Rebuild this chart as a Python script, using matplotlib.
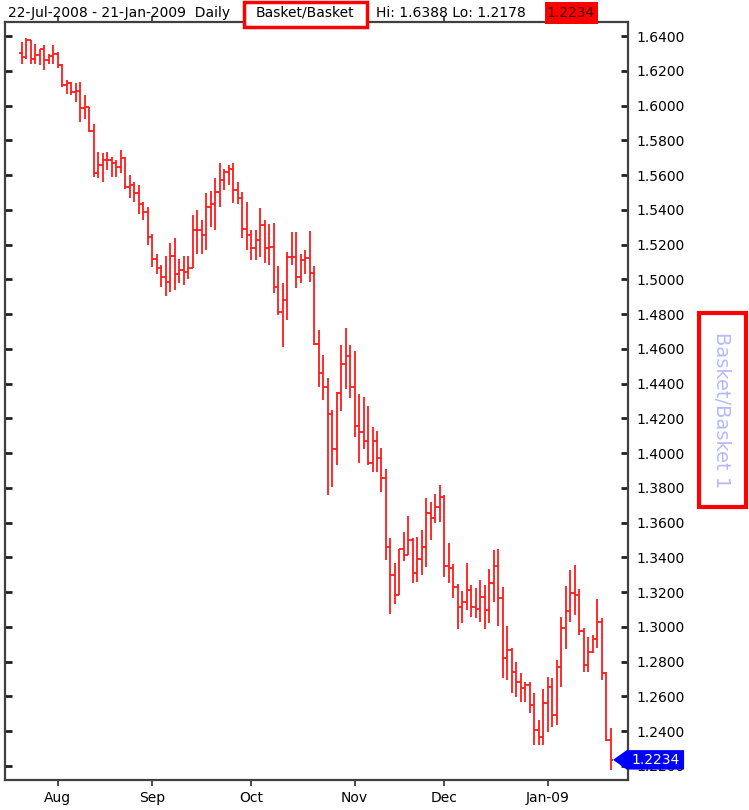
import numpy as np
import pandas as pd
from matplotlib import pyplot as plt
from matplotlib.patches import Rectangle, Polygon
from matplotlib import transforms

dates = pd.bdate_range('2008-07-22', '2009-01-21')

opens = [1.6304, 1.6281, 1.6377, 1.6271, 1.6291, 1.6329, 1.6266, 1.6285, 1.6300, 1.6233,
         1.6118, 1.6128, 1.6080, 1.6083, 1.5989, 1.5993, 1.5855, 1.5613, 1.5661, 1.5690,
         1.5686, 1.5671, 1.5648, 1.5700, 1.5533, 1.5542, 1.5495, 1.5437, 1.5389, 1.5245,
         1.5120, 1.5063, 1.5015, 1.4986, 1.5134, 1.5034, 1.5053, 1.5044, 1.5063, 1.5283,
         1.5283, 1.5255, 1.5418, 1.5437, 1.5504, 1.5571, 1.5619, 1.5638, 1.5514, 1.5466,
         1.5293, 1.5255, 1.5178, 1.5226, 1.5312, 1.5178, 1.5184, 1.4957, 1.4814, 1.4881,
         1.5130, 1.5130, 1.5015, 1.5111, 1.5126, 1.5038, 1.4631, 1.4463, 1.4382, 1.4225,
         1.4021, 1.4344, 1.4512, 1.4558, 1.4382, 1.4156, 1.4123, 1.4071, 1.3945, 1.4071,
         1.3970, 1.3854, 1.3457, 1.3298, 1.3183, 1.3446, 1.3413, 1.3500, 1.3311, 1.3388,
         1.3457, 1.3653, 1.3624, 1.3691, 1.3749, 1.3350, 1.3336, 1.3227, 1.3112, 1.3145,
         1.3212, 1.3112, 1.3100, 1.3170, 1.3097, 1.3254, 1.3350, 1.3164, 1.2818, 1.2866,
         1.2742, 1.2684, 1.2646, 1.2665, 1.2550, 1.2406, 1.2364, 1.2563, 1.2652, 1.2492,
         1.2770, 1.2991, 1.3093, 1.3193, 1.3183, 1.2978, 1.2780, 1.2857, 1.2928, 1.3029,
         1.2736, 1.2348]
highs = [1.6367, 1.6388, 1.6381, 1.6358, 1.6329, 1.6348, 1.6300, 1.6348, 1.6310, 1.6243,
         1.6147, 1.6137, 1.6128, 1.6137, 1.6060, 1.5995, 1.5897, 1.5734, 1.5725, 1.5734,
         1.5705, 1.5686, 1.5744, 1.5705, 1.5600, 1.5562, 1.5542, 1.5447, 1.5418, 1.5264,
         1.5149, 1.5082, 1.5134, 1.5211, 1.5236, 1.5120, 1.5134, 1.5134, 1.5370, 1.5402,
         1.5341, 1.5495, 1.5510, 1.5581, 1.5671, 1.5638, 1.5658, 1.5671, 1.5562, 1.5504,
         1.5447, 1.5283, 1.5283, 1.5414, 1.5341, 1.5318, 1.5322, 1.5076, 1.4977, 1.5159,
         1.5274, 1.5274, 1.5149, 1.5168, 1.5280, 1.5076, 1.4708, 1.4564, 1.4430, 1.4248,
         1.4353, 1.4622, 1.4723, 1.4622, 1.4589, 1.4340, 1.4324, 1.4271, 1.4148, 1.4129,
         1.4031, 1.3906, 1.3509, 1.3369, 1.3446, 1.3547, 1.3638, 1.3509, 1.3519, 1.3557,
         1.3739, 1.3720, 1.3764, 1.3816, 1.3758, 1.3480, 1.3359, 1.3246, 1.3208, 1.3369,
         1.3240, 1.3221, 1.3269, 1.3240, 1.3331, 1.3442, 1.3446, 1.3231, 1.3004, 1.2876,
         1.2799, 1.2732, 1.2684, 1.2684, 1.2617, 1.2464, 1.2640, 1.2713, 1.2703, 1.2809,
         1.3058, 1.3235, 1.3327, 1.3356, 1.3216, 1.2991, 1.2943, 1.2953, 1.3158, 1.3048,
         1.2742, 1.2416]
lows = [1.6243, 1.6271, 1.6243, 1.6243, 1.6233, 1.6208, 1.6243, 1.6243, 1.6220, 1.6105,
        1.6070, 1.6060, 1.6022, 1.5907, 1.5926, 1.5849, 1.5590, 1.5581, 1.5562, 1.5629,
        1.5590, 1.5590, 1.5610, 1.5523, 1.5466, 1.5447, 1.5379, 1.5341, 1.5197, 1.5073,
        1.5034, 1.4957, 1.4904, 1.4929, 1.4938, 1.4977, 1.4967, 1.5005, 1.5063, 1.5149,
        1.5149, 1.5172, 1.5303, 1.5283, 1.5418, 1.5514, 1.5543, 1.5441, 1.5437, 1.5236,
        1.5168, 1.5111, 1.5111, 1.5130, 1.5092, 1.5082, 1.4919, 1.4794, 1.4612, 1.4766,
        1.5082, 1.4948, 1.4977, 1.5034, 1.4986, 1.4620, 1.4382, 1.4305, 1.3758, 1.3806,
        1.3931, 1.4244, 1.4367, 1.4315, 1.4094, 1.3941, 1.4021, 1.3931, 1.3893, 1.3893,
        1.3778, 1.3384, 1.3074, 1.3131, 1.3183, 1.3381, 1.3413, 1.3254, 1.3260, 1.3298,
        1.3346, 1.3500, 1.3599, 1.3605, 1.3288, 1.3254, 1.3164, 1.2985, 1.3020, 1.3097,
        1.3058, 1.3049, 1.3030, 1.2985, 1.3020, 1.3145, 1.3004, 1.2703, 1.2694, 1.2621,
        1.2594, 1.2569, 1.2569, 1.2502, 1.2320, 1.2320, 1.2320, 1.2396, 1.2425, 1.2435,
        1.2655, 1.2870, 1.3029, 1.3068, 1.2953, 1.2742, 1.2742, 1.2850, 1.2876, 1.2694,
        1.2340, 1.2178]
closes = [1.6281, 1.6377, 1.6271, 1.6291, 1.6329, 1.6266, 1.6285, 1.6300, 1.6233, 1.6118,
          1.6128, 1.6080, 1.6083, 1.5989, 1.5993, 1.5855, 1.5613, 1.5661, 1.5690, 1.5686,
          1.5671, 1.5648, 1.5700, 1.5533, 1.5542, 1.5495, 1.5437, 1.5389, 1.5245, 1.5120,
          1.5063, 1.5015, 1.4986, 1.5134, 1.5034, 1.5053, 1.5044, 1.5063, 1.5283, 1.5283,
          1.5255, 1.5418, 1.5437, 1.5504, 1.5571, 1.5619, 1.5638, 1.5514, 1.5466, 1.5293,
          1.5255, 1.5178, 1.5226, 1.5312, 1.5178, 1.5184, 1.4957, 1.4814, 1.4881, 1.5130,
          1.5130, 1.5015, 1.5111, 1.5126, 1.5038, 1.4631, 1.4463, 1.4382, 1.4225, 1.4021,
          1.4344, 1.4512, 1.4558, 1.4382, 1.4156, 1.4123, 1.4071, 1.3945, 1.4071, 1.3970,
          1.3854, 1.3457, 1.3298, 1.3183, 1.3446, 1.3413, 1.3500, 1.3311, 1.3388, 1.3457,
          1.3653, 1.3624, 1.3691, 1.3749, 1.3350, 1.3336, 1.3227, 1.3112, 1.3145, 1.3212,
          1.3112, 1.3100, 1.3170, 1.3097, 1.3254, 1.3350, 1.3164, 1.2818, 1.2866, 1.2742,
          1.2684, 1.2646, 1.2665, 1.2550, 1.2406, 1.2364, 1.2563, 1.2652, 1.2492, 1.2770,
          1.2991, 1.3093, 1.3193, 1.3183, 1.2978, 1.2780, 1.2857, 1.2928, 1.3029, 1.2736,
          1.2348, 1.2234]

month_labels = ['Aug', 'Sep', 'Oct', 'Nov', 'Dec', 'Jan-09']
y_ticks = np.arange(1.22, 1.6401, 0.02)

W, H = 749, 810
fig = plt.figure(figsize=(W / 100, H / 100), dpi=100)
fig.patch.set_facecolor('white')
ax = fig.add_axes([5 / W, 1 - 780 / H, 623 / W, 758 / H])

x = np.arange(len(dates))
red = '#ff1a1a'
ax.vlines(x, lows, highs, color=red, lw=1.3)
ax.hlines(opens, x - 0.5, x, color=red, lw=1.3)
ax.hlines(closes, x, x + 0.5, color=red, lw=1.3)

ax.set_xlim(-3.7, 134.8)
ax.set_ylim(1.2118, 1.6482)

# month ticks at first trading day of each month
month_idx = [i for i in range(1, len(dates)) if dates[i].month != dates[i - 1].month]
ax.set_xticks(month_idx)
ax.set_xticklabels(month_labels)
ax.set_yticks(y_ticks)
ax.set_yticklabels(['%.4f' % v for v in y_ticks])

for s in ax.spines.values():
    s.set_color('#404040')
    s.set_linewidth(1.6)
ax.tick_params(axis='y', left=True, right=True, labelleft=False, labelright=True,
               direction='in', length=5, width=2, color='#202020', labelsize=10, pad=6)
ax.tick_params(axis='x', bottom=True, top=True, direction='out', length=4, width=1.3,
               color='#404040', labelsize=10, pad=4)

# header
fig.text(8 / W, 1 - 13 / H, '22-Jul-2008 - 21-Jan-2009  Daily', fontsize=10, va='center')
fig.patches.append(Rectangle((244 / W, 1 - 27 / H), 123 / W, 25 / H, transform=fig.transFigure,
                             facecolor='white', edgecolor='#ff0000', lw=2.5, zorder=3))
fig.text(305 / W, 1 - 13 / H, 'Basket/Basket', fontsize=10, va='center', ha='center', zorder=4)
fig.text(376 / W, 1 - 13 / H, 'Hi: %.4f Lo: %.4f' % (max(highs), min(lows)), fontsize=10, va='center')
fig.patches.append(Rectangle((545 / W, 1 - 24 / H), 53 / W, 22 / H, transform=fig.transFigure,
                             facecolor='#ff0000', edgecolor='none', zorder=3))
fig.text(571 / W, 1 - 13 / H, '%.4f' % closes[-1], fontsize=10, va='center', ha='center',
         color='#3a0000', zorder=4)

# right side label
fig.patches.append(Rectangle((699 / W, 1 - 507 / H), 47 / W, 194 / H, transform=fig.transFigure,
                             facecolor='white', edgecolor='#ff0000', lw=3, zorder=3))
fig.text(722 / W, 1 - 410 / H, 'Basket/Basket 1', rotation=270, fontsize=14, va='center',
         ha='center', color='#b8b8ff', zorder=4)

# last price marker
tr = transforms.blended_transform_factory(ax.transAxes, ax.transData)
c = closes[-1]
hh = 0.0056
marker = Polygon([(0.976, c), (0.998, c + hh), (1.09, c + hh), (1.09, c - hh), (0.998, c - hh)],
                 closed=True, transform=tr, facecolor='#0000ff', edgecolor='none',
                 clip_on=False, zorder=10)
ax.add_patch(marker)
ax.text(1.045, c, '%.4f' % c, transform=tr, color='white', fontsize=10, va='center',
        ha='center', zorder=11, clip_on=False)

fig.savefig('out.png', dpi=100)
